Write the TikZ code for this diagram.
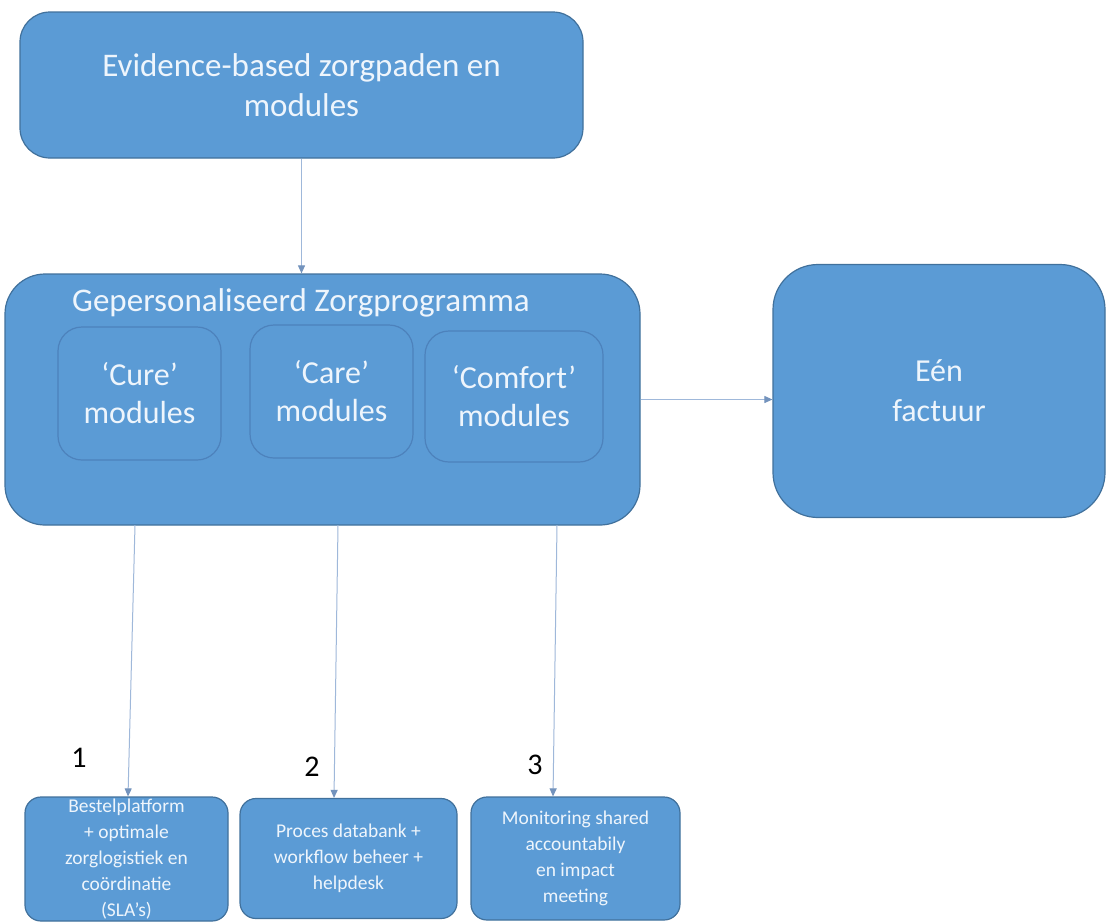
\documentclass[tikz,border=0pt]{standalone}
\usepackage{fontspec}
\setmainfont{Carlito}
\usetikzlibrary{positioning}
\usetikzlibrary{shapes,arrows.meta}

\definecolor{boxblue}{HTML}{5B9BD5}
\definecolor{boxedge}{HTML}{41719C}
\definecolor{inneredge}{HTML}{4D82BC}
\definecolor{linkblue}{HTML}{9FB8DA}
\definecolor{tipblue}{HTML}{7393BD}
\definecolor{textwhite}{HTML}{EEF5FC}

\begin{document}
\begin{tikzpicture}[%
    x=1pt,
    y=-1pt,
    link/.style={%
      ->,
      >={Triangle[length=8pt,width=7pt,color=tipblue]},
      draw=linkblue,
      line width=1pt
    },
    block/.style={%
      rectangle,
      rounded corners=#1,
      draw=boxedge,
      line width=1.2pt,
      fill=boxblue,
      text=textwhite,
      align=center,
      inner sep=0pt
    },
    module/.style={%
      block=24pt,
      draw=inneredge,
      minimum width=163pt,
      minimum height=133pt,
      font=\fontsize{32}{38}\selectfont
    },
    service/.style={%
      block=16pt,
      font=\fontsize{19.5}{26}\selectfont
    },
    stepnum/.style={%
      font=\fontsize{30}{36}\selectfont
    }
  ]
  \useasboundingbox[fill=white] (0,0) rectangle (1107,922);
  % Nodes:
    \node[block=30pt, minimum width=563pt, minimum height=146pt,
          font=\fontsize{33}{40}\selectfont] (evidence) at (301.5,85)
          {Evidence-based zorgpaden en\\modules};
    \node[block=40pt, minimum width=635pt, minimum height=251pt] (program) at (322.5,399.5) {};
    \node[text=textwhite, font=\fontsize{33}{38}\selectfont] (progtitle) at (301,303)
          {Gepersonaliseerd Zorgprogramma};
    \node[module] (cure) at (139.5,393.5) {‘Cure’\\modules};
    \node[module] (care) at (331.5,391.5) {‘Care’\\modules};
    \node[module, minimum width=178pt, minimum height=131pt] (comfort) at (514,396.5)
          {‘Comfort’\\modules};
    \node[block=45pt, minimum width=332pt, minimum height=253pt,
          font=\fontsize{32}{40}\selectfont] (invoice) at (939,391) {Eén\\factuur};
    \node[service, minimum width=203pt, minimum height=124pt] (order) at (126.5,859)
          {Bestelplatform\\+ optimale\\zorglogistiek en\\coördinatie\\(SLA’s)};
    \node[service, minimum width=217pt, minimum height=120pt] (process) at (348.5,858.5)
          {Proces databank +\\workflow beheer +\\helpdesk};
    \node[service, minimum width=209pt, minimum height=123pt] (monitor) at (575.5,858.5)
          {Monitoring shared\\accountabily\\en impact\\meeting};
    \node[stepnum] (num1) at (79,758) {1};
    \node[stepnum] (num2) at (312,767) {2};
    \node[stepnum] (num3) at (535,765) {3};
    \coordinate (out1) at (135,525);
    \coordinate (out2) at (338,525);
    \coordinate (out3) at (557,525);
  % Paths:
    \path (evidence.south) edge[link] (evidence.south |- program.north)
          (program.east)   edge[link] (program.east -| invoice.west)
          (out1)           edge[link] ([xshift=1.5pt]order.north)
          (out2)           edge[link] ([xshift=-14.5pt]process.north)
          (out3)           edge[link] ([xshift=-22.5pt]monitor.north);
\end{tikzpicture}
\end{document}
